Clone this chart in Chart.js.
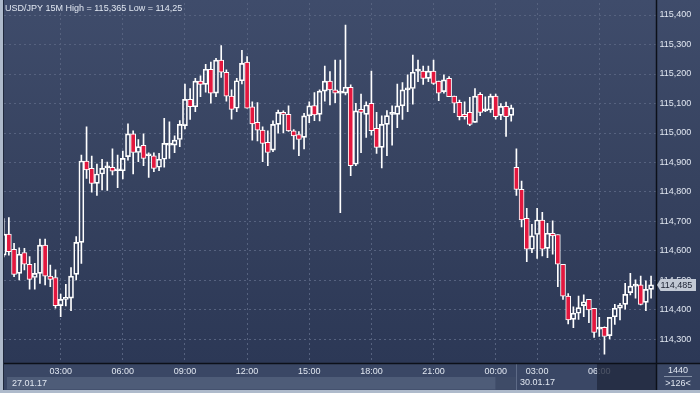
<!DOCTYPE html>
<html>
<head>
<meta charset="utf-8">
<title>USD/JPY 15M</title>
<style>
    html, body { margin: 0; padding: 0; background: #2f3b58; }
    #contenedor { width: 700px; height: 393px; }
</style>
</head>
<body>
<div id="contenedor"><canvas id="grafica" width="700" height="393"></canvas></div>
<script src="https://cdn.jsdelivr.net/npm/chart.js@4.4.1/dist/chart.umd.min.js"></script>
<script>
/* ==========================================================================
   DATOS (velas de 15 minutos, 27.01.17 - 30.01.17)
   ========================================================================== */
const apertura = [
    114.586, 114.657, 114.606, 114.524, 114.595, 114.555, 114.510, 114.524, 114.620, 114.515,
    114.510, 114.415, 114.436, 114.440, 114.521, 114.629, 114.905, 114.880, 114.829, 114.861,
    114.882, 114.884, 114.872, 114.872, 114.920, 114.997, 114.934, 114.958, 114.923, 114.923,
    114.884, 114.911, 114.959, 114.959, 114.978, 115.025, 115.114, 115.089, 115.176, 115.165,
    115.216, 115.135, 115.247, 115.206, 115.125, 115.084, 115.177, 115.240, 115.089, 115.036,
    115.010, 114.968, 114.942, 115.029, 115.070, 115.063, 115.007, 114.995, 114.985, 115.058,
    115.093, 115.063, 115.142, 115.176, 115.146, 115.135, 115.135, 115.155, 114.894, 115.080,
    115.063, 115.101, 115.016, 114.951, 115.029, 115.063, 115.063, 115.092, 115.146, 115.151,
    115.210, 115.210, 115.185, 115.210, 115.176, 115.140, 115.185, 115.125, 115.104, 115.063,
    115.070, 115.036, 115.131, 115.075, 115.078, 115.125, 115.060, 115.090, 115.060, 114.884,
    114.809, 114.711, 114.606, 114.656, 114.705, 114.609, 114.660, 114.656, 114.555, 114.447,
    114.368, 114.389, 114.415, 114.436, 114.406, 114.335, 114.341, 114.313, 114.377, 114.406,
    114.419, 114.459, 114.481, 114.485, 114.426, 114.470
];
const maximo = [
    114.710, 114.713, 114.626, 114.611, 114.609, 114.581, 114.558, 114.640, 114.640, 114.552,
    114.536, 114.454, 114.487, 114.544, 114.649, 114.925, 115.021, 114.922, 114.895, 114.911,
    114.901, 114.946, 114.925, 114.939, 115.031, 115.007, 114.978, 114.997, 114.933, 114.933,
    114.931, 115.050, 115.038, 114.990, 115.042, 115.166, 115.151, 115.185, 115.194, 115.233,
    115.240, 115.253, 115.296, 115.214, 115.146, 115.185, 115.280, 115.259, 115.106, 115.103,
    115.021, 115.007, 115.041, 115.078, 115.075, 115.092, 115.012, 115.005, 115.067, 115.106,
    115.137, 115.146, 115.227, 115.208, 115.247, 115.247, 115.366, 115.163, 115.101, 115.132,
    115.106, 115.210, 115.070, 115.058, 115.076, 115.092, 115.166, 115.171, 115.197, 115.264,
    115.247, 115.227, 115.227, 115.247, 115.176, 115.197, 115.191, 115.125, 115.112, 115.106,
    115.121, 115.151, 115.137, 115.123, 115.132, 115.132, 115.100, 115.105, 115.095, 114.946,
    114.837, 114.745, 114.690, 114.745, 114.731, 114.694, 114.702, 114.656, 114.555, 114.456,
    114.411, 114.447, 114.451, 114.436, 114.406, 114.375, 114.343, 114.375, 114.419, 114.423,
    114.490, 114.524, 114.502, 114.515, 114.499, 114.515
];
const minimo = [
    114.580, 114.586, 114.513, 114.502, 114.536, 114.471, 114.471, 114.490, 114.485, 114.479,
    114.406, 114.377, 114.414, 114.398, 114.502, 114.558, 114.846, 114.799, 114.788, 114.807,
    114.805, 114.858, 114.815, 114.844, 114.908, 114.861, 114.903, 114.889, 114.849, 114.869,
    114.872, 114.884, 114.914, 114.933, 114.954, 115.014, 115.046, 115.072, 115.123, 115.138,
    115.101, 115.123, 115.188, 115.108, 115.047, 115.072, 115.166, 115.084, 114.976, 114.973,
    114.903, 114.889, 114.937, 114.999, 115.000, 115.005, 114.945, 114.923, 114.946, 115.035,
    115.042, 115.041, 115.108, 115.095, 115.103, 114.730, 115.129, 114.855, 114.889, 114.933,
    114.985, 114.993, 114.931, 114.882, 114.923, 114.959, 115.018, 115.046, 115.072, 115.098,
    115.174, 115.165, 115.174, 115.165, 115.110, 115.135, 115.123, 115.069, 115.044, 115.047,
    115.025, 115.036, 115.059, 115.072, 115.070, 115.047, 115.045, 114.988, 115.040, 114.788,
    114.682, 114.564, 114.594, 114.575, 114.583, 114.577, 114.589, 114.479, 114.436, 114.353,
    114.340, 114.368, 114.377, 114.357, 114.307, 114.310, 114.250, 114.302, 114.351, 114.366,
    114.403, 114.451, 114.440, 114.417, 114.398, 114.440
];
const cierre = [
    114.657, 114.598, 114.521, 114.589, 114.555, 114.504, 114.524, 114.620, 114.515, 114.504,
    114.415, 114.436, 114.440, 114.515, 114.629, 114.905, 114.875, 114.829, 114.861, 114.880,
    114.883, 114.871, 114.872, 114.914, 114.997, 114.934, 114.954, 114.914, 114.923, 114.880,
    114.911, 114.965, 114.959, 114.976, 115.029, 115.114, 115.089, 115.176, 115.165, 115.216,
    115.135, 115.247, 115.206, 115.125, 115.080, 115.177, 115.236, 115.084, 115.031, 115.010,
    114.965, 114.934, 115.029, 115.070, 115.063, 115.007, 114.990, 114.978, 115.058, 115.092,
    115.061, 115.142, 115.176, 115.146, 115.135, 115.135, 115.155, 114.889, 115.075, 115.070,
    115.095, 115.008, 114.951, 115.029, 115.059, 115.063, 115.092, 115.146, 115.146, 115.206,
    115.210, 115.185, 115.210, 115.168, 115.135, 115.180, 115.123, 115.101, 115.055, 115.055,
    115.029, 115.125, 115.070, 115.075, 115.125, 115.055, 115.090, 115.055, 115.085, 114.809,
    114.705, 114.606, 114.651, 114.705, 114.606, 114.660, 114.651, 114.555, 114.447, 114.366,
    114.389, 114.408, 114.428, 114.400, 114.324, 114.335, 114.310, 114.375, 114.406, 114.417,
    114.453, 114.481, 114.481, 114.419, 114.470, 114.485
];

// Etiquetas del eje de tiempo y la vela en la que caen
const etiquetasHoras = ['03:00', '06:00', '09:00', '12:00', '15:00', '18:00', '21:00', '00:00', '03:00', '06:00'];
const velasHoras = [11, 23, 35, 47, 59, 71, 83, 95, 103, 115];

// Niveles del eje de precios
const nivelesPrecio = [114.3, 114.4, 114.5, 114.6, 114.7, 114.8, 114.9, 115.0, 115.1, 115.2, 115.3, 115.4];

const tituloGrafica = 'USD/JPY 15M High = 115,365 Low = 114,25';
const fechas = ['27.01.17', '30.01.17'];
const velasVisibles = 126;
const periodoMinutos = 1440;

/* ==========================================================================
   ESTILOS
   ========================================================================== */
const colorRojo = '#e3173e';
const colorBlanco = '#ffffff';
const colorRejilla = '#56627f';
const colorTexto = '#e1e7f1';
const fuente = "'Liberation Sans', Arial, sans-serif";

Chart.defaults.font.family = fuente;
Chart.defaults.font.size = 9;

/* ==========================================================================
   CONSTRUCCIÓN DE LAS SERIES (cuerpos y mechas)
   ========================================================================== */
const indices = apertura.map((_, i) => i);
const cuerpos = indices.map(i => ({ x: i, y: [apertura[i], cierre[i]] }));
const mechasSup = indices.map(i => ({ x: i, y: [Math.max(apertura[i], cierre[i]), maximo[i]] }));
const mechasInf = indices.map(i => ({ x: i, y: [minimo[i], Math.min(apertura[i], cierre[i])] }));
const rellenos = indices.map(i => (cierre[i] < apertura[i] ? colorRojo : 'rgba(0,0,0,0)'));

/* ==========================================================================
   PLUGINS DE DIBUJO (fondo, marco, fechas, etiqueta de precio)
   ========================================================================== */
const pluginFondo = {
    id: 'fondo',
    beforeDraw(chart) {
        const { ctx, chartArea: area } = chart;
        const degradado = ctx.createLinearGradient(0, 0, 0, area.bottom);
        degradado.addColorStop(0, '#3f4c6b');
        degradado.addColorStop(0.5, '#36425f');
        degradado.addColorStop(1, '#2c3856');
        ctx.save();
        ctx.fillStyle = degradado;
        ctx.fillRect(0, 0, 700, area.bottom);
        ctx.fillStyle = '#3a4765';
        ctx.fillRect(0, area.bottom, 700, 393 - area.bottom);
        ctx.restore();
    }
};

const pluginDecoracion = {
    id: 'decoracion',
    afterDraw(chart) {
        const { ctx, chartArea: area, scales } = chart;
        const escalaX = scales.x;
        const escalaY = scales.y;
        ctx.save();

        // título
        ctx.font = '9px ' + fuente;
        ctx.fillStyle = colorTexto;
        ctx.textBaseline = 'middle';
        ctx.textAlign = 'left';
        ctx.fillText(tituloGrafica, 5, 9);

        // franja de fechas
        const xViernes = escalaX.getPixelForValue(velasHoras[7]);
        const xLunes = escalaX.getPixelForValue(99) - 0.5;
        ctx.fillStyle = '#4e5c78';
        ctx.fillRect(7, 377, xViernes - 7, 12.5);
        ctx.fillStyle = '#3e4b67';
        ctx.fillRect(xViernes, 377, xLunes - xViernes, 12.5);
        ctx.strokeStyle = '#5d6a86';
        ctx.lineWidth = 1;
        ctx.beginPath();
        ctx.moveTo(Math.round(xLunes) + 0.5, area.bottom + 1);
        ctx.lineTo(Math.round(xLunes) + 0.5, 390);
        ctx.stroke();
        ctx.fillStyle = colorTexto;
        ctx.fillText(fechas[0], 12, 383.5);
        ctx.fillText(fechas[1], xLunes + 4, 383);

        // zona oscura del desplazamiento
        ctx.fillStyle = 'rgba(33, 41, 62, 0.78)';
        ctx.fillRect(597, area.bottom + 1, area.right - 597, 26);

        // líneas negras de los ejes
        ctx.strokeStyle = '#0c1019';
        ctx.lineWidth = 1.5;
        ctx.beginPath();
        ctx.moveTo(area.left, area.bottom + 0.5);
        ctx.lineTo(700, area.bottom + 0.5);
        ctx.moveTo(area.right, 0);
        ctx.lineTo(area.right, 390);
        ctx.stroke();

        // esquina inferior derecha
        ctx.fillStyle = colorTexto;
        ctx.textAlign = 'center';
        ctx.fillText(String(periodoMinutos), 678, 371);
        ctx.fillText('>' + velasVisibles + '<', 678, 384);
        ctx.strokeStyle = '#8692a8';
        ctx.lineWidth = 1;
        ctx.beginPath();
        ctx.moveTo(664, 376.5);
        ctx.lineTo(692, 376.5);
        ctx.stroke();

        // etiqueta del último precio
        const ultimo = cierre[cierre.length - 1];
        const yPrecio = escalaY.getPixelForValue(ultimo);
        ctx.fillStyle = '#c2c9d5';
        ctx.beginPath();
        ctx.moveTo(area.right + 0.5, yPrecio);
        ctx.lineTo(area.right + 4, yPrecio - 6);
        ctx.lineTo(696, yPrecio - 6);
        ctx.lineTo(696, yPrecio + 6);
        ctx.lineTo(area.right + 4, yPrecio + 6);
        ctx.closePath();
        ctx.fill();
        ctx.fillStyle = '#1b2132';
        ctx.textAlign = 'left';
        ctx.fillText(ultimo.toFixed(3).replace('.', ','), area.right + 4, yPrecio + 0.5);

        // marco claro
        ctx.fillStyle = '#aebacb';
        ctx.fillRect(0, 0, 3, 393);
        ctx.fillRect(0, 390, 700, 3);
        ctx.fillStyle = '#1f283c';
        ctx.fillRect(3, 0, 1, 390);

        ctx.restore();
    }
};

/* ==========================================================================
   GRÁFICA
   ========================================================================== */
const ctxVelas = document.getElementById('grafica');

new Chart(ctxVelas, {
    type: 'bar',
    data: {
        datasets: [
            { data: mechasInf, backgroundColor: colorBlanco, borderWidth: 0, barThickness: 1, grouped: false, clip: 0 },
            { data: mechasSup, backgroundColor: colorBlanco, borderWidth: 0, barThickness: 1, grouped: false, clip: 0 },
            {
                data: cuerpos,
                backgroundColor: rellenos,
                borderColor: colorBlanco,
                borderWidth: 1,
                borderSkipped: false,
                barThickness: 5,
                minBarLength: 2,
                grouped: false,
                clip: 0
            }
        ]
    },
    options: {
        responsive: false,
        animation: false,
        events: [],
        layout: { padding: { left: 4, top: 3, right: 0, bottom: 0 } },
        plugins: { legend: { display: false }, tooltip: { enabled: false } },
        scales: {
            x: {
                type: 'linear',
                min: 0.06,
                max: 126.05,
                offset: false,
                grid: { color: colorRejilla, offset: false, drawTicks: false },
                border: { display: false, dash: [2, 3] },
                afterBuildTicks: escala => { escala.ticks = velasHoras.map(v => ({ value: v })); },
                afterFit: escala => {
                    escala.height = 30;
                    escala.paddingLeft = 0;
                    escala.paddingRight = 0;
                },
                ticks: {
                    color: colorTexto,
                    padding: 3,
                    maxRotation: 0,
                    autoSkip: false,
                    callback: (valor, i) => etiquetasHoras[i]
                }
            },
            y: {
                position: 'right',
                min: 114.2203,
                max: 115.4407,
                beginAtZero: false,
                grid: { color: colorRejilla, drawTicks: false },
                border: { display: false, dash: [2, 3] },
                afterBuildTicks: escala => { escala.ticks = nivelesPrecio.map(v => ({ value: v })); },
                afterFit: escala => {
                    escala.width = 43.5;
                    escala.paddingTop = 0;
                    escala.paddingBottom = 0;
                },
                ticks: {
                    color: colorTexto,
                    padding: 3,
                    callback: valor => valor.toFixed(3).replace('.', ',')
                }
            }
        }
    },
    plugins: [pluginFondo, pluginDecoracion]
});
</script>
</body>
</html>
